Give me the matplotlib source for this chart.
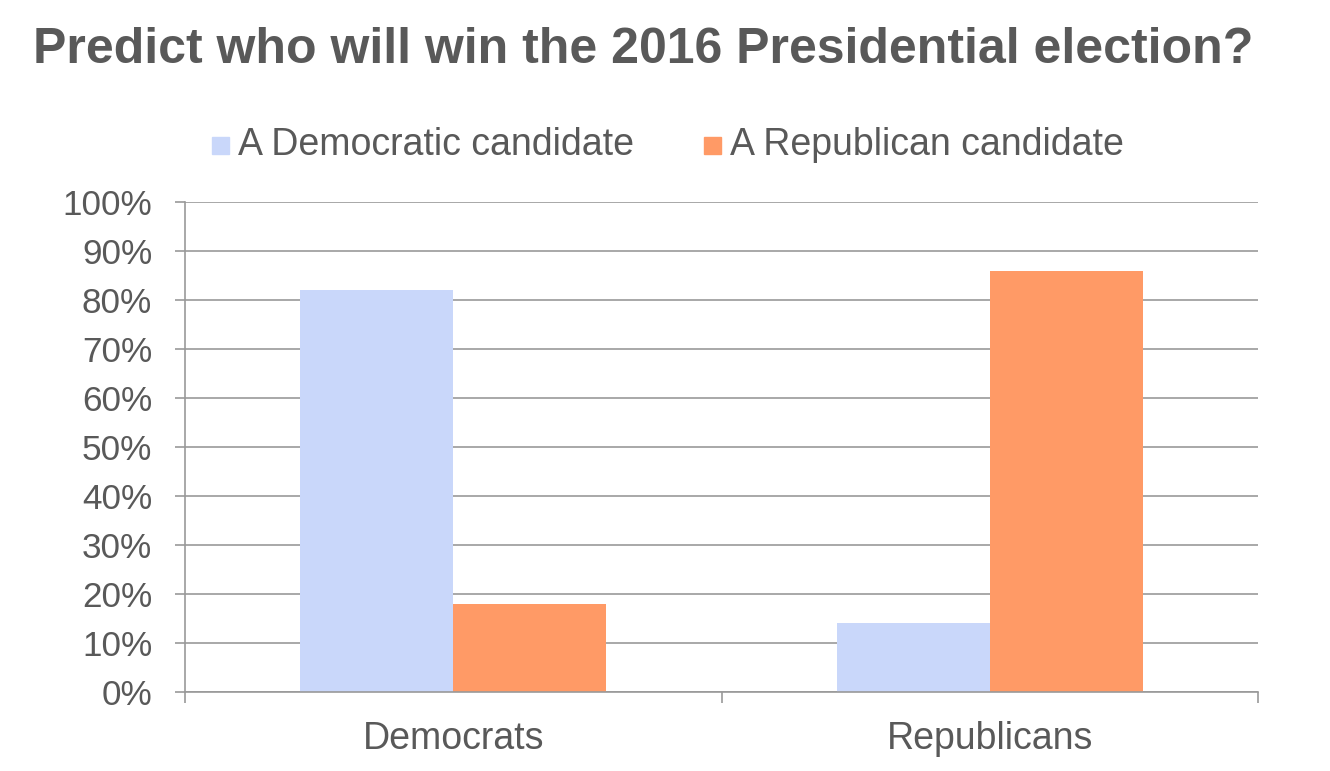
import numpy as np
import matplotlib
matplotlib.use("Agg")
import matplotlib.pyplot as plt
from matplotlib.patches import Rectangle

# data
groups = ["Democrats", "Republicans"]
series_names = ["A Democratic candidate", "A Republican candidate"]
dem_candidate = [82, 14]
rep_candidate = [18, 86]
series_colors = ["#C9D7FA", "#FF9A66"]
yticks = np.arange(0, 101, 10)

text_gray = "#595959"
grid_gray = "#999999"

plt.rcParams["font.family"] = ["Liberation Sans", "DejaVu Sans"]

fig = plt.figure(figsize=(13.3, 7.71), dpi=100)
ax = fig.add_axes([0.139, 0.1025, 0.807, 0.6355])

x = np.arange(len(groups))
w = 0.285
ax.bar(x - w / 2, dem_candidate, w, color=series_colors[0], zorder=2)
ax.bar(x + w / 2, rep_candidate, w, color=series_colors[1], zorder=2)

ax.set_xlim(-0.5, len(groups) - 0.5)
ax.set_ylim(0, 100)
ax.set_yticks(yticks)
ax.set_yticklabels([f"{v}%" for v in yticks])
ax.yaxis.grid(True, color=grid_gray, linewidth=1.2, zorder=0)

# boundaries between categories get the ticks, category names sit in between
ax.set_xticks(np.arange(-0.5, len(groups), 1.0))
ax.set_xticklabels([])
ax.set_xticks(x, minor=True)
ax.set_xticklabels(groups, minor=True)
ax.tick_params(axis="x", which="major", length=8, width=1.2, color=grid_gray, direction="out")
ax.tick_params(axis="x", which="minor", length=0, pad=21, labelsize=27, labelcolor=text_gray)
ax.tick_params(axis="y", length=7.5, width=1.2, color=grid_gray, pad=16, labelsize=25.3, labelcolor=text_gray)

for s in ["top", "right"]:
    ax.spines[s].set_visible(False)
for s in ["left", "bottom"]:
    ax.spines[s].set_color(grid_gray)
    ax.spines[s].set_linewidth(1.2)

fig.text(33 / 1330, 1 - 63 / 771, "Predict who will win the 2016 Presidential election?",
         fontsize=36, fontweight="bold", color=text_gray, va="baseline", ha="left")

# legend drawn by hand: a square then the name
leg_x = [212, 704]
for name, col, lx in zip(series_names, series_colors, leg_x):
    fig.patches.append(Rectangle((lx / 1330, 1 - 154 / 771), 17 / 1330, 17 / 771,
                                 transform=fig.transFigure, color=col))
    fig.text((lx + 26) / 1330, 1 - 155 / 771, name, fontsize=27, color=text_gray,
             va="baseline", ha="left")

fig.savefig("out.png", dpi=100)
